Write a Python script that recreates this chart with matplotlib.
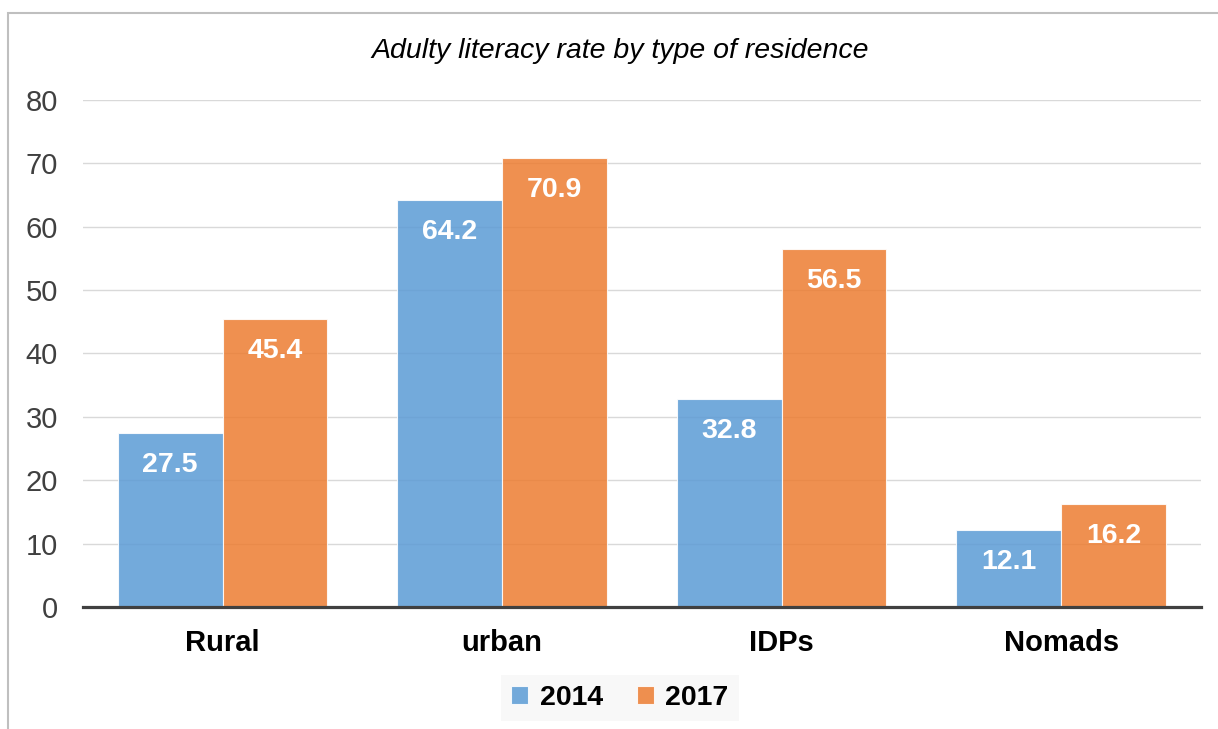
import matplotlib.pyplot as plt
import matplotlib.patches as mpatches
import numpy as np

# data
categories = ["Rural", "urban", "IDPs", "Nomads"]
years = ["2014", "2017"]
values_2014 = [27.5, 64.2, 32.8, 12.1]
values_2017 = [45.4, 70.9, 56.5, 16.2]

plt.rcParams['font.family'] = ['Liberation Sans', 'DejaVu Sans']

fig = plt.figure(figsize=(12.18, 7.29), dpi=100)
ax = fig.add_axes([0.068, 0.1674, 0.918, 0.6954])

# thin grey frame round the chart
fig.patches.append(mpatches.Rectangle((8 / 1218, -0.1), 1.2, 1 - 13 / 729 + 0.1,
                                      transform=fig.transFigure, fill=False,
                                      edgecolor="#bfbfbf", linewidth=1.5))

x = np.arange(len(categories))
w = 0.375
colors = ["#5b9bd5", "#ed7d31"]
bars1 = ax.bar(x - w / 2, values_2014, w, color=colors[0], alpha=0.85,
               edgecolor="white", linewidth=0.8, label=years[0])
bars2 = ax.bar(x + w / 2, values_2017, w, color=colors[1], alpha=0.85,
               edgecolor="white", linewidth=0.8, label=years[1])

for bars in (bars1, bars2):
    for b in bars:
        ax.annotate(f"{b.get_height():.1f}", (b.get_x() + b.get_width() / 2, b.get_height()),
                    xytext=(0, -23), textcoords="offset points", ha="center", va="center",
                    color="white", fontsize=20.5, fontweight="bold")

ax.set_xlim(-0.5, 3.5)
ax.set_ylim(0, 80)
ax.set_yticks(range(0, 81, 10))
ax.set_xticks(x)
ax.set_xticklabels(categories, fontsize=21, fontweight="bold")
ax.tick_params(axis="x", length=0, pad=16)
ax.tick_params(axis="y", length=0, pad=18, labelsize=21, labelcolor="#404040")

ax.grid(axis="y", color="#d9d9d9", linewidth=1)
ax.set_axisbelow(True)
for s in ["top", "right", "left"]:
    ax.spines[s].set_visible(False)
ax.spines["bottom"].set_color("#404040")
ax.spines["bottom"].set_linewidth(2.3)

fig.text(0.509, 0.93, "Adulty literacy rate by type of residence", ha="center", va="center",
         fontsize=20.5, fontstyle="italic")

leg = fig.legend(loc="center", bbox_to_anchor=(0.509, 0.0425), ncol=2, frameon=True,
                 fancybox=False, handlelength=0.6, handleheight=0.6, handletextpad=0.4,
                 columnspacing=1.2, borderpad=0.35, prop={"size": 20.5, "weight": "bold"})
leg.get_frame().set_facecolor("#f7f7f7")
leg.get_frame().set_edgecolor("none")

fig.savefig("out.png", dpi=100)
